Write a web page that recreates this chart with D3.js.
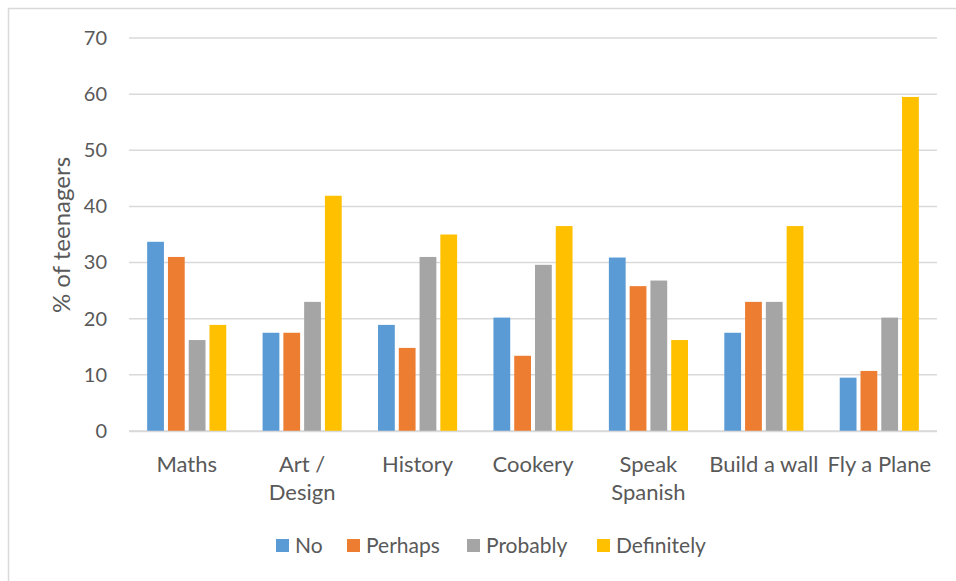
<!DOCTYPE html>
<html>
<head>
<meta charset="utf-8">
<script src="https://cdn.jsdelivr.net/npm/d3@7"></script>
<style>
  body { margin: 0; background: #fff; }
  svg { display: block; font-family: Lato, "Open Sans", sans-serif; }
</style>
</head>
<body>
<svg id="chart" width="956" height="581"></svg>
<script>
var categories = ['Maths', 'Art / Design', 'History', 'Cookery', 'Speak Spanish', 'Build a wall', 'Fly a Plane'];
var categoryLines = [['Maths'], ['Art /', 'Design'], ['History'], ['Cookery'], ['Speak', 'Spanish'], ['Build a wall'], ['Fly a Plane']];
var seriesNames = ['No', 'Perhaps', 'Probably', 'Definitely'];
var seriesColors = ['#5B9BD5', '#ED7D31', '#A5A5A5', '#FFC000'];
var noValues = [33.7, 17.5, 18.9, 20.2, 30.9, 17.5, 9.5];
var perhapsValues = [31.0, 17.5, 14.8, 13.4, 25.8, 23.0, 10.7];
var probablyValues = [16.2, 23.0, 31.0, 29.6, 26.8, 23.0, 20.2];
var definitelyValues = [18.9, 41.9, 35.0, 36.5, 16.2, 36.5, 59.5];
var yTicks = [0, 10, 20, 30, 40, 50, 60, 70];

var allSeries = [noValues, perhapsValues, probablyValues, definitelyValues];

var svg = d3.select('#chart');

// chart frame (only top and left visible in the shot)
svg.append('rect')
    .attr('x', 8.5).attr('y', 8.5)
    .attr('width', 1000).attr('height', 700)
    .attr('fill', 'none')
    .attr('stroke', '#d9d9d9')
    .attr('stroke-width', 1.5);

var plotLeft = 129, plotRight = 937, plotTop = 38, plotBottom = 431;

var y = d3.scaleLinear().domain([0, 70]).range([plotBottom, plotTop]);

var x0 = d3.scaleBand()
    .domain(categories)
    .range([plotLeft, plotRight])
    .paddingInner(0.28)
    .paddingOuter(0.14);

var x1 = d3.scaleBand()
    .domain(seriesNames)
    .range([0, x0.bandwidth()]);

// gridlines
svg.append('g')
  .selectAll('line')
  .data(yTicks)
  .enter().append('line')
    .attr('x1', plotLeft)
    .attr('x2', plotRight)
    .attr('y1', function(d) { return y(d); })
    .attr('y2', function(d) { return y(d); })
    .style('stroke', '#d9d9d9')
    .style('stroke-width', 1.5);

var yAxis = svg.append('g')
    .attr('transform', 'translate(' + plotLeft + ',0)')
    .call(d3.axisLeft(y).tickValues(yTicks).tickSize(0).tickPadding(22));
yAxis.select('.domain').remove();
yAxis.selectAll('text')
    .style('font-size', '20px')
    .style('fill', '#595959')
    .style('font-family', 'Lato, "Open Sans", sans-serif');

// bars
var groups = svg.append('g')
  .selectAll('g')
  .data(categories)
  .enter().append('g')
    .attr('transform', function(d) { return 'translate(' + x0(d) + ',0)'; });

groups.selectAll('rect')
  .data(function(d, i) {
    return seriesNames.map(function(s, j) { return {key: s, value: allSeries[j][i], color: seriesColors[j]}; });
  })
  .enter().append('rect')
    .attr('x', function(d) { return x1(d.key) + 2; })
    .attr('width', x1.bandwidth() - 4)
    .attr('y', function(d) { return y(d.value); })
    .attr('height', function(d) { return plotBottom - y(d.value); })
    .attr('fill', function(d) { return d.color; });

// baseline
svg.append('line')
    .attr('x1', plotLeft).attr('x2', plotRight)
    .attr('y1', plotBottom + 0.5).attr('y2', plotBottom + 0.5)
    .style('stroke', '#d9d9d9')
    .style('stroke-width', 1.5);

// category labels
var labels = svg.append('g')
  .selectAll('text')
  .data(categories)
  .enter().append('text')
    .attr('x', function(d) { return x0(d) + x0.bandwidth() / 2; })
    .attr('y', 472)
    .attr('text-anchor', 'middle')
    .style('font-size', '22px')
    .style('fill', '#595959');

labels.selectAll('tspan')
  .data(function(d, i) { return categoryLines[i]; })
  .enter().append('tspan')
    .attr('x', function() { return d3.select(this.parentNode).attr('x'); })
    .attr('dy', function(d, i) { return i === 0 ? 0 : 28; })
    .text(function(d) { return d; });

// y axis title
svg.append('text')
    .attr('transform', 'translate(70,235) rotate(-90)')
    .attr('text-anchor', 'middle')
    .style('font-size', '24px')
    .style('fill', '#595959')
    .text('% of teenagers');

// legend
var legendX = [276, 347, 467, 597];
var legend = svg.append('g')
  .selectAll('g')
  .data(seriesNames)
  .enter().append('g')
    .attr('transform', function(d, i) { return 'translate(' + legendX[i] + ',539)'; });

legend.append('rect')
    .attr('width', 13)
    .attr('height', 13)
    .attr('fill', function(d, i) { return seriesColors[i]; });

legend.append('text')
    .attr('x', 19)
    .attr('y', 14)
    .style('font-size', '21px')
    .style('fill', '#595959')
    .text(function(d) { return d; });
</script>
</body>
</html>
